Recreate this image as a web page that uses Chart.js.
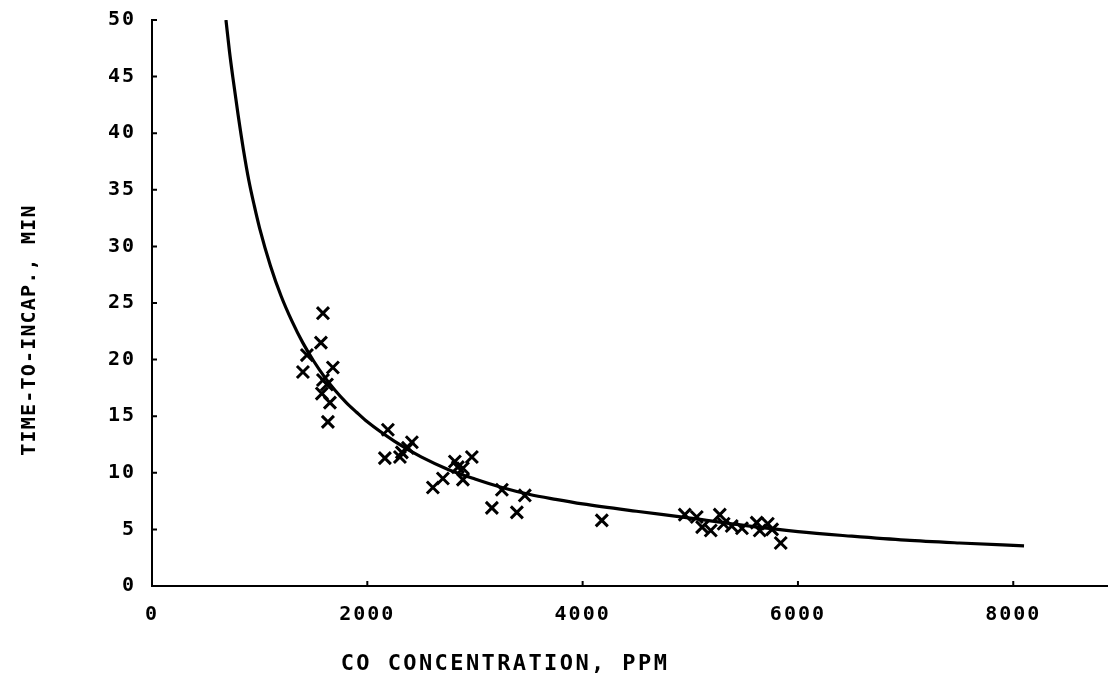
<!DOCTYPE html>
<html>
<head>
<meta charset="utf-8">
<script src="https://cdn.jsdelivr.net/npm/chart.js@4.4.1/dist/chart.umd.min.js"></script>
<style>
html,body{margin:0;padding:0;background:#fff;overflow:hidden;}
#wrap{width:1108px;height:680px;position:relative;}
canvas{display:block;}
</style>
</head>
<body>
<div id="wrap"><canvas id="c" width="1108" height="680"></canvas></div>
<script>
// Observed data points (CO concentration ppm, time-to-incapacitation min)
const obsX = [1402, 1439, 1569, 1588, 1680, 1588, 1578, 1625, 1653, 1634,
              2191, 2163, 2321, 2414, 2377, 2303, 2609, 2702, 2813, 2971, 2888, 2888, 2841,
              3250, 3157, 3463, 3389, 4178,
              4949, 5060, 5110, 5190, 5274, 5310, 5385, 5480, 5617, 5645, 5720, 5760, 5840];
const obsY = [18.9, 20.4, 21.5, 24.1, 19.3, 18.2, 17.0, 17.8, 16.2, 14.5,
              13.8, 11.3, 11.8, 12.7, 12.2, 11.4, 8.7, 9.5, 11.0, 11.4, 10.4, 9.4, 10.5,
              8.5, 6.9, 8.0, 6.5, 5.8,
              6.3, 6.1, 5.2, 4.9, 6.3, 5.5, 5.3, 5.1, 5.6, 4.9, 5.5, 5.0, 3.8];
// Fitted curve
const fitX = [687, 720, 750, 800, 850, 900, 950, 1000, 1100, 1200, 1300, 1400, 1500, 1600, 1700,
              1800, 1900, 2000, 2250, 2500, 2750, 3000, 3250, 3500, 3750, 4000, 4500, 5000,
              5500, 6000, 6500, 7000, 7500, 8100];
const fitY = [50, 47.2, 45, 41.6, 38.5, 35.8, 33.6, 31.6, 28.3, 25.6, 23.4, 21.5, 19.9, 18.5, 17.3,
              16.25, 15.35, 14.5, 12.8, 11.4, 10.3, 9.45, 8.7, 8.1, 7.65, 7.25, 6.6, 6.0,
              5.35, 4.8, 4.4, 4.05, 3.8, 3.55];
// Axis ticks and titles
const xTicks = [0, 2000, 4000, 6000, 8000];
const yTicks = [0, 5, 10, 15, 20, 25, 30, 35, 40, 45, 50];
const xTitle = 'CO CONCENTRATION, PPM';
const yTitle = 'TIME-TO-INCAP., MIN';

const FONT = '"DejaVu Sans Mono", "Liberation Mono", monospace';

const scatterData = obsX.map((x, i) => ({x: x, y: obsY[i]}));
const curveData = fitX.map((x, i) => ({x: x, y: fitY[i]}));

const extras = {
  id: 'extras',
  afterLayout(chart) {
    const xs = chart.scales.x;
    const d = chart.width - xs.right;
    if (d > 0) {
      xs.right += d;
      xs.width += d;
      chart.chartArea.right += d;
      chart.chartArea.width = chart.chartArea.right - chart.chartArea.left;
      xs.configure();
    }
  },
  beforeDraw(chart) {
    chart.ctx.letterSpacing = '2px';
  },
  afterDraw(chart) {
    const {ctx, chartArea, scales} = chart;
    const xs = scales.x, ys = scales.y;
    ctx.save();
    ctx.strokeStyle = '#000';
    ctx.lineWidth = 2;
    ctx.beginPath();
    yTicks.forEach(v => {
      const py = ys.getPixelForValue(v);
      ctx.moveTo(chartArea.left, py);
      ctx.lineTo(chartArea.left + 5, py);
    });
    xTicks.forEach(v => {
      const px = xs.getPixelForValue(v);
      ctx.moveTo(px, chartArea.bottom);
      ctx.lineTo(px, chartArea.bottom - 5);
    });
    ctx.stroke();
    ctx.fillStyle = '#000';
    ctx.textAlign = 'center';
    ctx.textBaseline = 'middle';
    ctx.font = 'bold 22px ' + FONT;
    ctx.letterSpacing = '2.4px';
    ctx.fillText(xTitle, 505, 664);
    ctx.font = 'bold 20px ' + FONT;
    ctx.letterSpacing = '1.2px';
    ctx.translate(30, 330);
    ctx.rotate(-Math.PI / 2);
    ctx.fillText(yTitle, 0, 0);
    ctx.restore();
  }
};

const hiddenGrid = {display: true, drawOnChartArea: false, drawTicks: true, tickLength: 17, color: 'rgba(0,0,0,0)'};

new Chart(document.getElementById('c'), {
  type: 'scatter',
  data: {
    datasets: [
      {
        type: 'line',
        data: curveData,
        borderColor: '#000',
        borderWidth: 3.2,
        pointRadius: 0,
        fill: false,
        cubicInterpolationMode: 'monotone',
        order: 2
      },
      {
        data: scatterData,
        pointStyle: 'crossRot',
        pointRadius: 8.5,
        borderColor: '#000',
        backgroundColor: '#000',
        borderWidth: 3,
        order: 1
      }
    ]
  },
  options: {
    responsive: false,
    animation: false,
    devicePixelRatio: 1,
    layout: {padding: {left: 0, right: 0, top: 20, bottom: 0}},
    plugins: {legend: {display: false}, tooltip: {enabled: false}},
    scales: {
      x: {
        type: 'linear',
        min: 0,
        max: 8880,
        afterBuildTicks: s => { s.ticks = xTicks.map(v => ({value: v})); },
        afterFit: s => { s.height = 94; s.paddingLeft = 0; s.paddingRight = 0; },
        grid: hiddenGrid,
        border: {display: true, color: '#000', width: 2},
        ticks: {color: '#000', padding: 0, maxRotation: 0, autoSkip: false,
                font: {family: FONT, size: 20, weight: 'bold'},
                callback: v => String(v)}
      },
      y: {
        type: 'linear',
        min: 0,
        max: 50,
        afterBuildTicks: s => { s.ticks = yTicks.map(v => ({value: v})); },
        afterFit: s => { s.width = 152; s.paddingTop = 0; s.paddingBottom = 0; },
        grid: Object.assign({}, hiddenGrid, {tickLength: 16}),
        border: {display: true, color: '#000', width: 2},
        ticks: {color: '#000', padding: 0, autoSkip: false,
                font: {family: FONT, size: 20, weight: 'bold'},
                callback: v => String(v)}
      }
    }
  },
  plugins: [extras]
});
</script>
</body>
</html>
